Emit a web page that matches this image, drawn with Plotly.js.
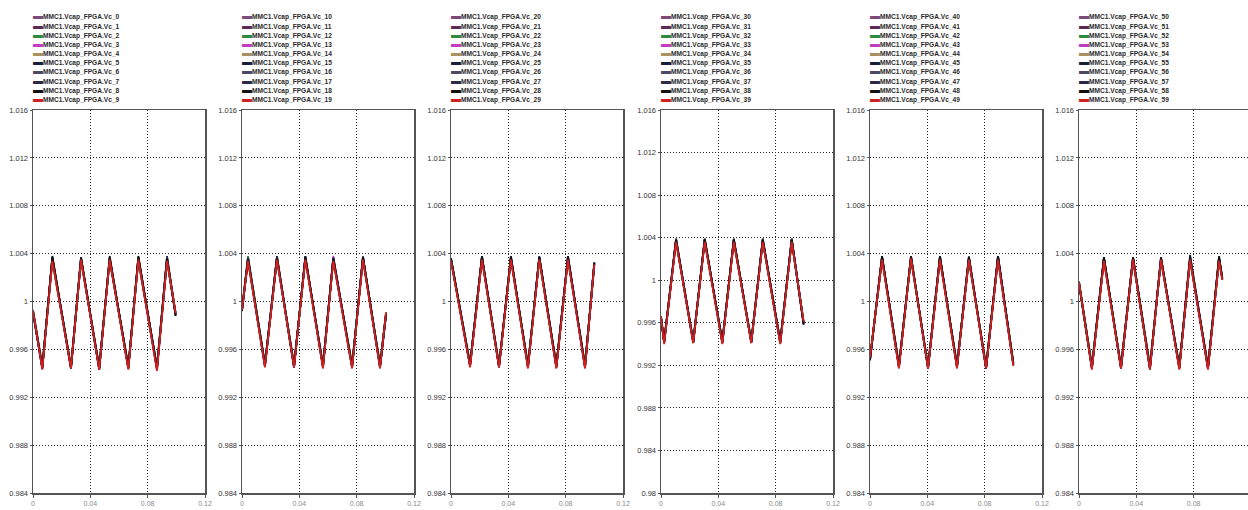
<!DOCTYPE html>
<html>
<head>
<meta charset="utf-8">
<script src="https://cdn.plot.ly/plotly-3.0.1.min.js"></script>
<style>html,body{margin:0;padding:0;background:#fff;}#chart{width:1248px;height:510px;}</style>
</head>
<body>
<div id="chart"></div>
<script>
// ---- series colours (same order in every panel) ----
const seriesColors = ['#7a4a7a','#5a2a55','#2e8b3e','#c23cc2','#a89060','#14203a','#4a4a66','#2a2a48','#111111','#d02020'];

// ---- series names ----
const p1_names = ['MMC1.Vcap_FPGA.Vc_0','MMC1.Vcap_FPGA.Vc_1','MMC1.Vcap_FPGA.Vc_2','MMC1.Vcap_FPGA.Vc_3','MMC1.Vcap_FPGA.Vc_4','MMC1.Vcap_FPGA.Vc_5','MMC1.Vcap_FPGA.Vc_6','MMC1.Vcap_FPGA.Vc_7','MMC1.Vcap_FPGA.Vc_8','MMC1.Vcap_FPGA.Vc_9'];
const p2_names = ['MMC1.Vcap_FPGA.Vc_10','MMC1.Vcap_FPGA.Vc_11','MMC1.Vcap_FPGA.Vc_12','MMC1.Vcap_FPGA.Vc_13','MMC1.Vcap_FPGA.Vc_14','MMC1.Vcap_FPGA.Vc_15','MMC1.Vcap_FPGA.Vc_16','MMC1.Vcap_FPGA.Vc_17','MMC1.Vcap_FPGA.Vc_18','MMC1.Vcap_FPGA.Vc_19'];
const p3_names = ['MMC1.Vcap_FPGA.Vc_20','MMC1.Vcap_FPGA.Vc_21','MMC1.Vcap_FPGA.Vc_22','MMC1.Vcap_FPGA.Vc_23','MMC1.Vcap_FPGA.Vc_24','MMC1.Vcap_FPGA.Vc_25','MMC1.Vcap_FPGA.Vc_26','MMC1.Vcap_FPGA.Vc_27','MMC1.Vcap_FPGA.Vc_28','MMC1.Vcap_FPGA.Vc_29'];
const p4_names = ['MMC1.Vcap_FPGA.Vc_30','MMC1.Vcap_FPGA.Vc_31','MMC1.Vcap_FPGA.Vc_32','MMC1.Vcap_FPGA.Vc_33','MMC1.Vcap_FPGA.Vc_34','MMC1.Vcap_FPGA.Vc_35','MMC1.Vcap_FPGA.Vc_36','MMC1.Vcap_FPGA.Vc_37','MMC1.Vcap_FPGA.Vc_38','MMC1.Vcap_FPGA.Vc_39'];
const p5_names = ['MMC1.Vcap_FPGA.Vc_40','MMC1.Vcap_FPGA.Vc_41','MMC1.Vcap_FPGA.Vc_42','MMC1.Vcap_FPGA.Vc_43','MMC1.Vcap_FPGA.Vc_44','MMC1.Vcap_FPGA.Vc_45','MMC1.Vcap_FPGA.Vc_46','MMC1.Vcap_FPGA.Vc_47','MMC1.Vcap_FPGA.Vc_48','MMC1.Vcap_FPGA.Vc_49'];
const p6_names = ['MMC1.Vcap_FPGA.Vc_50','MMC1.Vcap_FPGA.Vc_51','MMC1.Vcap_FPGA.Vc_52','MMC1.Vcap_FPGA.Vc_53','MMC1.Vcap_FPGA.Vc_54','MMC1.Vcap_FPGA.Vc_55','MMC1.Vcap_FPGA.Vc_56','MMC1.Vcap_FPGA.Vc_57','MMC1.Vcap_FPGA.Vc_58','MMC1.Vcap_FPGA.Vc_59'];

// ---- time samples (s) and capacitor voltages (pu) ----
const p1_t = [0, 0.0065, 0.0135, 0.0265, 0.0335, 0.0462, 0.0535, 0.0665, 0.0735, 0.0865, 0.0935, 0.0995];
const p1_v = [
  [0.9991, 0.9946, 1.0035, 0.9946, 1.0034, 0.9945, 1.0035, 0.9946, 1.0036, 0.9945, 1.0035, 0.9989],
  [0.9992, 0.9945, 1.0036, 0.9944, 1.0035, 0.9944, 1.0036, 0.9945, 1.0035, 0.9944, 1.0034, 0.9990],
  [0.9993, 0.9947, 1.0034, 0.9946, 1.0036, 0.9946, 1.0034, 0.9947, 1.0034, 0.9946, 1.0036, 0.9991],
  [0.9990, 0.9944, 1.0035, 0.9945, 1.0035, 0.9944, 1.0037, 0.9944, 1.0035, 0.9943, 1.0035, 0.9989],
  [0.9992, 0.9946, 1.0033, 0.9947, 1.0034, 0.9946, 1.0034, 0.9946, 1.0034, 0.9946, 1.0034, 0.9990],
  [0.9991, 0.9945, 1.0037, 0.9945, 1.0036, 0.9945, 1.0036, 0.9945, 1.0037, 0.9945, 1.0038, 0.9988],
  [0.9993, 0.9944, 1.0036, 0.9944, 1.0037, 0.9943, 1.0035, 0.9944, 1.0036, 0.9944, 1.0037, 0.9990],
  [0.9992, 0.9945, 1.0037, 0.9945, 1.0036, 0.9944, 1.0036, 0.9945, 1.0037, 0.9945, 1.0036, 0.9989],
  [0.9991, 0.9944, 1.0038, 0.9944, 1.0037, 0.9943, 1.0038, 0.9944, 1.0038, 0.9943, 1.0036, 0.9988],
  [0.9992, 0.9943, 1.0034, 0.9944, 1.0035, 0.9943, 1.0035, 0.9943, 1.0035, 0.9942, 1.0034, 0.9990]
];
const p2_t = [0, 0.0042, 0.016, 0.0244, 0.0363, 0.0442, 0.0565, 0.0637, 0.0768, 0.0844, 0.0963, 0.1005];
const p2_v = [
  [0.9994, 1.0035, 0.9948, 1.0036, 0.9947, 1.0036, 0.9947, 1.0035, 0.9947, 1.0036, 0.9947, 0.9989],
  [0.9993, 1.0036, 0.9947, 1.0037, 0.9946, 1.0036, 0.9946, 1.0036, 0.9946, 1.0037, 0.9946, 0.9990],
  [0.9995, 1.0038, 0.9948, 1.0035, 0.9948, 1.0035, 0.9948, 1.0034, 0.9948, 1.0035, 0.9948, 0.9991],
  [0.9992, 1.0035, 0.9946, 1.0036, 0.9945, 1.0037, 0.9946, 1.0038, 0.9945, 1.0036, 0.9945, 0.9989],
  [0.9994, 1.0034, 0.9948, 1.0035, 0.9947, 1.0035, 0.9947, 1.0035, 0.9947, 1.0035, 0.9947, 0.9990],
  [0.9993, 1.0036, 0.9947, 1.0038, 0.9946, 1.0036, 0.9946, 1.0036, 0.9946, 1.0037, 0.9946, 0.9990],
  [0.9992, 1.0037, 0.9946, 1.0037, 0.9945, 1.0038, 0.9945, 1.0037, 0.9945, 1.0038, 0.9945, 0.9989],
  [0.9993, 1.0036, 0.9947, 1.0037, 0.9946, 1.0037, 0.9946, 1.0036, 0.9946, 1.0037, 0.9946, 0.9990],
  [0.9992, 1.0035, 0.9946, 1.0036, 0.9945, 1.0038, 0.9945, 1.0036, 0.9945, 1.0037, 0.9945, 0.9989],
  [0.9993, 1.0034, 0.9945, 1.0035, 0.9945, 1.0035, 0.9944, 1.0034, 0.9944, 1.0035, 0.9944, 0.9991]
];
const p3_t = [0, 0.0133, 0.0216, 0.0335, 0.0418, 0.0537, 0.0616, 0.0735, 0.0816, 0.0935, 0.1];
const p3_v = [
  [1.0034, 0.9948, 1.0036, 0.9947, 1.0036, 0.9947, 1.0036, 0.9947, 1.0036, 0.9947, 1.0031],
  [1.0035, 0.9947, 1.0037, 0.9946, 1.0037, 0.9946, 1.0037, 0.9946, 1.0036, 0.9946, 1.0032],
  [1.0036, 0.9949, 1.0035, 0.9948, 1.0035, 0.9948, 1.0035, 0.9948, 1.0035, 0.9948, 1.0030],
  [1.0035, 0.9946, 1.0036, 0.9946, 1.0038, 0.9945, 1.0036, 0.9945, 1.0037, 0.9945, 1.0033],
  [1.0034, 0.9948, 1.0035, 0.9947, 1.0035, 0.9947, 1.0035, 0.9947, 1.0035, 0.9947, 1.0031],
  [1.0036, 0.9947, 1.0038, 0.9946, 1.0037, 0.9946, 1.0038, 0.9946, 1.0037, 0.9946, 1.0032],
  [1.0035, 0.9946, 1.0037, 0.9945, 1.0037, 0.9945, 1.0037, 0.9945, 1.0038, 0.9945, 1.0033],
  [1.0035, 0.9947, 1.0037, 0.9946, 1.0036, 0.9946, 1.0037, 0.9946, 1.0037, 0.9946, 1.0032],
  [1.0036, 0.9946, 1.0038, 0.9945, 1.0038, 0.9945, 1.0037, 0.9945, 1.0038, 0.9945, 1.0032],
  [1.0034, 0.9945, 1.0035, 0.9945, 1.0035, 0.9944, 1.0035, 0.9944, 1.0035, 0.9944, 1.0031]
];
const p4_t = [0, 0.0022, 0.0105, 0.0225, 0.0305, 0.0428, 0.0508, 0.063, 0.071, 0.0832, 0.0912, 0.0995];
const p4_v = [
  [0.9964, 0.9943, 1.0037, 0.9943, 1.0037, 0.9943, 1.0037, 0.9943, 1.0037, 0.9943, 1.0037, 0.9959],
  [0.9965, 0.9942, 1.0038, 0.9942, 1.0038, 0.9942, 1.0037, 0.9942, 1.0038, 0.9942, 1.0038, 0.9960],
  [0.9966, 0.9944, 1.0036, 0.9944, 1.0036, 0.9944, 1.0036, 0.9944, 1.0036, 0.9944, 1.0036, 0.9961],
  [0.9964, 0.9941, 1.0037, 0.9942, 1.0038, 0.9941, 1.0038, 0.9942, 1.0037, 0.9941, 1.0038, 0.9959],
  [0.9965, 0.9943, 1.0036, 0.9943, 1.0037, 0.9943, 1.0036, 0.9943, 1.0036, 0.9943, 1.0037, 0.9960],
  [0.9966, 0.9942, 1.0039, 0.9942, 1.0039, 0.9942, 1.0038, 0.9942, 1.0039, 0.9942, 1.0039, 0.9960],
  [0.9965, 0.9941, 1.0038, 0.9941, 1.0038, 0.9941, 1.0039, 0.9941, 1.0038, 0.9941, 1.0038, 0.9959],
  [0.9964, 0.9942, 1.0039, 0.9942, 1.0038, 0.9942, 1.0038, 0.9942, 1.0039, 0.9942, 1.0039, 0.9960],
  [0.9965, 0.9941, 1.0038, 0.9941, 1.0039, 0.9941, 1.0039, 0.9941, 1.0038, 0.9941, 1.0038, 0.9958],
  [0.9966, 0.9940, 1.0036, 0.9941, 1.0036, 0.9940, 1.0036, 0.9941, 1.0036, 0.9940, 1.0036, 0.9961]
];
const p5_t = [0, 0.0084, 0.0202, 0.0286, 0.0405, 0.0488, 0.0607, 0.069, 0.081, 0.0893, 0.1];
const p5_v = [
  [0.9952, 1.0036, 0.9947, 1.0036, 0.9946, 1.0036, 0.9947, 1.0035, 0.9946, 1.0036, 0.9949],
  [0.9951, 1.0037, 0.9946, 1.0037, 0.9945, 1.0037, 0.9946, 1.0036, 0.9945, 1.0037, 0.9948],
  [0.9953, 1.0035, 0.9948, 1.0035, 0.9947, 1.0035, 0.9948, 1.0034, 0.9947, 1.0035, 0.9950],
  [0.9951, 1.0036, 0.9945, 1.0038, 0.9944, 1.0036, 0.9945, 1.0037, 0.9944, 1.0036, 0.9947],
  [0.9952, 1.0035, 0.9947, 1.0035, 0.9946, 1.0035, 0.9947, 1.0035, 0.9946, 1.0035, 0.9949],
  [0.9952, 1.0038, 0.9946, 1.0037, 0.9945, 1.0038, 0.9946, 1.0037, 0.9945, 1.0038, 0.9948],
  [0.9951, 1.0037, 0.9945, 1.0038, 0.9944, 1.0037, 0.9945, 1.0038, 0.9944, 1.0037, 0.9947],
  [0.9952, 1.0037, 0.9946, 1.0037, 0.9945, 1.0037, 0.9946, 1.0036, 0.9945, 1.0038, 0.9948],
  [0.9951, 1.0038, 0.9945, 1.0038, 0.9944, 1.0038, 0.9945, 1.0037, 0.9944, 1.0038, 0.9947],
  [0.9953, 1.0035, 0.9944, 1.0036, 0.9944, 1.0035, 0.9944, 1.0035, 0.9944, 1.0035, 0.9946]
];
const p6_t = [0, 0.009, 0.0174, 0.0293, 0.0377, 0.0495, 0.0572, 0.07, 0.0775, 0.09, 0.0977, 0.1];
const p6_v = [
  [1.0015, 0.9946, 1.0035, 0.9946, 1.0035, 0.9946, 1.0035, 0.9946, 1.0035, 0.9946, 1.0035, 1.0019],
  [1.0016, 0.9945, 1.0036, 0.9945, 1.0036, 0.9945, 1.0036, 0.9945, 1.0036, 0.9945, 1.0036, 1.0020],
  [1.0017, 0.9947, 1.0034, 0.9947, 1.0037, 0.9947, 1.0034, 0.9947, 1.0034, 0.9947, 1.0034, 1.0018],
  [1.0015, 0.9944, 1.0035, 0.9945, 1.0035, 0.9944, 1.0037, 0.9945, 1.0035, 0.9944, 1.0035, 1.0019],
  [1.0016, 0.9946, 1.0034, 0.9946, 1.0034, 0.9946, 1.0034, 0.9946, 1.0034, 0.9946, 1.0034, 1.0020],
  [1.0016, 0.9945, 1.0037, 0.9945, 1.0036, 0.9943, 1.0036, 0.9945, 1.0039, 0.9945, 1.0036, 1.0019],
  [1.0015, 0.9944, 1.0036, 0.9944, 1.0037, 0.9944, 1.0036, 0.9944, 1.0037, 0.9944, 1.0037, 1.0018],
  [1.0016, 0.9945, 1.0036, 0.9945, 1.0036, 0.9945, 1.0036, 0.9945, 1.0036, 0.9945, 1.0037, 1.0020],
  [1.0015, 0.9944, 1.0037, 0.9944, 1.0037, 0.9944, 1.0037, 0.9944, 1.0037, 0.9944, 1.0038, 1.0019],
  [1.0016, 0.9943, 1.0034, 0.9944, 1.0035, 0.9943, 1.0035, 0.9943, 1.0035, 0.9943, 1.0034, 1.0018]
];

// ---- axis ticks ----
const xTickVals = [0, 0.04, 0.08, 0.12];
const xTickText = ['0', '0.04', '0.08', '0.12'];
const yTickVals = [0.984, 0.988, 0.992, 0.996, 1, 1.004, 1.008, 1.012, 1.016];
const yTickText = ['0.984', '0.988', '0.992', '0.996', '1', '1.004', '1.008', '1.012', '1.016'];
const yTickVals4 = [0.98, 0.984, 0.988, 0.992, 0.996, 1, 1.004, 1.008, 1.012, 1.016];
const yTickText4 = ['0.98', '0.984', '0.988', '0.992', '0.996', '1', '1.004', '1.008', '1.012', '1.016'];

// ---- panel assembly ----
const panels = [
  {t: p1_t, v: p1_v, names: p1_names, yr: [0.984, 1.016], yt: yTickVals, ytt: yTickText},
  {t: p2_t, v: p2_v, names: p2_names, yr: [0.984, 1.016], yt: yTickVals, ytt: yTickText},
  {t: p3_t, v: p3_v, names: p3_names, yr: [0.984, 1.016], yt: yTickVals, ytt: yTickText},
  {t: p4_t, v: p4_v, names: p4_names, yr: [0.98, 1.016], yt: yTickVals4, ytt: yTickText4},
  {t: p5_t, v: p5_v, names: p5_names, yr: [0.984, 1.016], yt: yTickVals, ytt: yTickText},
  {t: p6_t, v: p6_v, names: p6_names, yr: [0.984, 1.016], yt: yTickVals, ytt: yTickText}
];

const W = 1248, H = 510;
const plotLeftPx = [33, 242, 451, 661, 870, 1079];
const plotWidthPx = 172;
const plotTopPx = 110, plotBottomPx = 493;
const legendRowPx = [15.7, 25, 34.3, 43.4, 52.6, 61.8, 71, 80.2, 89.4, 98.6];

const traces = [];
const layout = {
  width: W, height: H,
  margin: {l: 0, r: 0, t: 0, b: 0},
  paper_bgcolor: '#ffffff', plot_bgcolor: '#ffffff',
  showlegend: false,
  font: {family: 'Liberation Sans, Arial, sans-serif', size: 7, color: '#333'},
  annotations: []
};

panels.forEach((p, k) => {
  const sfx = k === 0 ? '' : String(k + 1);
  const left = plotLeftPx[k];
  const right = Math.min(left + plotWidthPx, W);
  const xmax = 0.12 * (right - left) / plotWidthPx;
  p.v.forEach((row, i) => {
    traces.push({
      type: 'scatter', mode: 'lines',
      x: p.t, y: row, name: p.names[i],
      xaxis: 'x' + sfx, yaxis: 'y' + sfx,
      line: {color: seriesColors[i], width: 1.8},
      hoverinfo: 'skip'
    });
    layout.annotations.push({
      xref: 'paper', yref: 'paper',
      x: (left - 1) / W, y: 1 - legendRowPx[i] / H,
      xanchor: 'left', yanchor: 'middle',
      showarrow: false, borderpad: 0,
      text: '<span style="color:' + seriesColors[i] + ';font-size:10px">▬</span><b>' + p.names[i] + '</b>',
      font: {family: 'Liberation Sans, Arial, sans-serif', size: 6.6, color: '#2a2a2a'}
    });
  });
  layout['xaxis' + sfx] = {
    domain: [left / W, right / W],
    anchor: 'y' + sfx,
    range: [0, xmax],
    tickvals: xTickVals, ticktext: xTickText,
    tickfont: {size: 7, color: '#8a8a8a'},
    showgrid: true, gridcolor: '#222', griddash: '1px,2px', gridwidth: 1.2,
    zeroline: false,
    showline: true, linecolor: '#555', linewidth: 1.5, mirror: true,
    ticks: 'outside', ticklen: 3, tickcolor: '#555'
  };
  layout['yaxis' + sfx] = {
    domain: [1 - plotBottomPx / H, 1 - plotTopPx / H],
    anchor: 'x' + sfx,
    range: p.yr,
    tickvals: p.yt, ticktext: p.ytt,
    tickfont: {size: 7.5, color: '#333'},
    showgrid: true, gridcolor: '#222', griddash: '1px,2px', gridwidth: 1.2,
    zeroline: false,
    showline: true, linecolor: '#555', linewidth: 1.5, mirror: true,
    ticks: 'outside', ticklen: 2, tickcolor: '#555'
  };
});

Plotly.newPlot('chart', traces, layout, {displayModeBar: false, staticPlot: true});
</script>
</body>
</html>
